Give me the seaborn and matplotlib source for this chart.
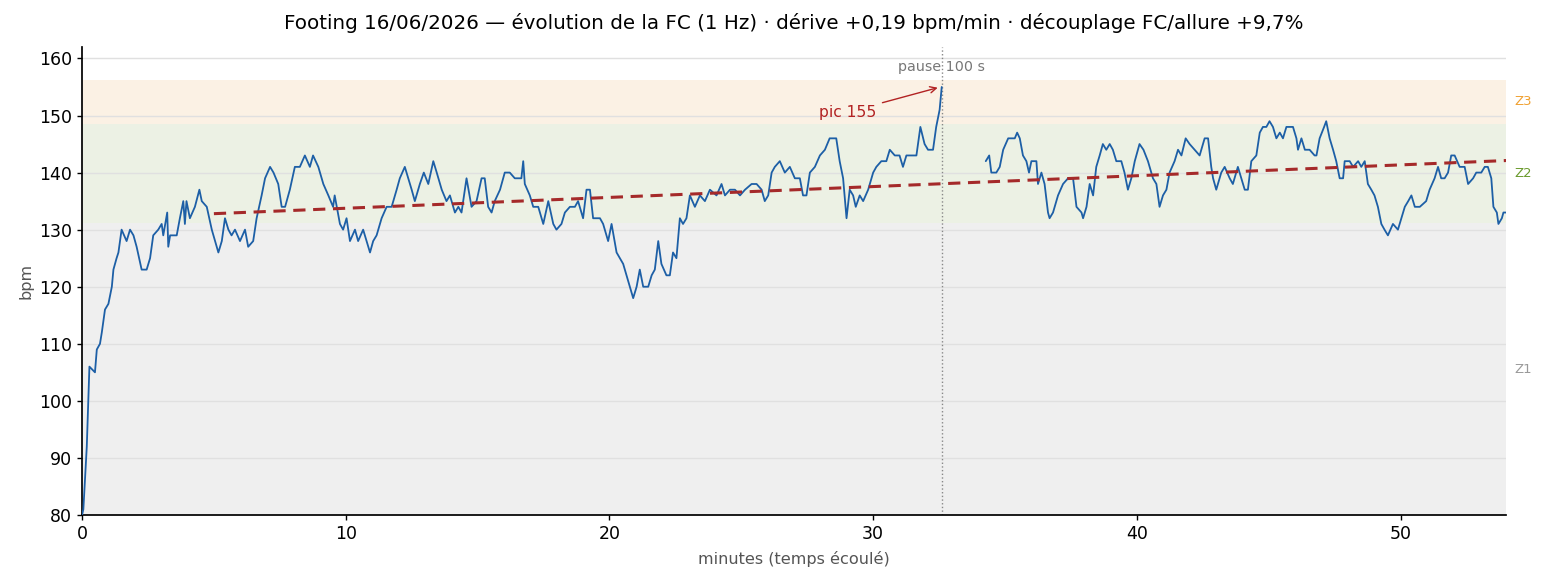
import numpy as np
import pandas as pd
import matplotlib
matplotlib.use("Agg")
import matplotlib.pyplot as plt
import matplotlib.transforms as mtransforms
import seaborn as sns

# FC relevée avant la pause (minutes, bpm)
seg1_min = [0.0, 0.05, 0.18, 0.28, 0.49, 0.56, 0.68, 0.75, 0.87, 1.0, 1.13, 1.19, 1.31, 1.38, 1.5,
            1.69, 1.82, 1.95, 2.07, 2.26, 2.45, 2.58, 2.7, 2.89, 3.02, 3.08, 3.23, 3.27, 3.34, 3.59,
            3.71, 3.84, 3.9, 3.96, 4.09, 4.28, 4.45, 4.54, 4.73, 4.92, 5.17, 5.3, 5.42, 5.55, 5.67,
            5.8, 5.99, 6.18, 6.3, 6.49, 6.62, 6.81, 6.94, 7.13, 7.26, 7.44, 7.57, 7.7, 7.88, 8.07,
            8.26, 8.45, 8.64, 8.76, 8.96, 9.15, 9.34, 9.52, 9.58, 9.78, 9.9, 10.03, 10.16, 10.35,
            10.47, 10.66, 10.79, 10.92, 11.04, 11.17, 11.36, 11.55, 11.74, 11.93, 12.05, 12.24,
            12.37, 12.5, 12.62, 12.81, 12.96, 13.13, 13.32, 13.45, 13.64, 13.82, 13.95, 14.14,
            14.27, 14.39, 14.58, 14.77, 14.96, 15.15, 15.27, 15.4, 15.53, 15.65, 15.85, 16.03,
            16.22, 16.41, 16.66, 16.73, 16.79, 16.98, 17.11, 17.3, 17.49, 17.68, 17.87, 17.99,
            18.18, 18.31, 18.5, 18.69, 18.81, 19.0, 19.13, 19.26, 19.38, 19.64, 19.76, 19.95,
            20.08, 20.27, 20.52, 20.71, 20.9, 21.03, 21.15, 21.28, 21.47, 21.6, 21.72, 21.85,
            21.97, 22.16, 22.29, 22.41, 22.54, 22.67, 22.79, 22.92, 23.05, 23.24, 23.43, 23.62,
            23.81, 24.06, 24.25, 24.38, 24.57, 24.76, 24.95, 25.14, 25.39, 25.58, 25.77, 25.89,
            26.02, 26.15, 26.27, 26.46, 26.65, 26.84, 27.03, 27.22, 27.34, 27.47, 27.6, 27.79,
            27.98, 28.17, 28.35, 28.6, 28.73, 28.86, 28.99, 29.11, 29.24, 29.34, 29.49, 29.62,
            29.81, 30.0, 30.12, 30.31, 30.5, 30.63, 30.82, 31.0, 31.13, 31.26, 31.45, 31.64,
            31.79, 31.95, 32.08, 32.27, 32.39, 32.52, 32.6]
seg1_bpm = [80, 81, 92, 106, 105, 109, 110, 112, 116, 117, 120, 123, 125, 126, 130,
            128, 130, 129, 127, 123, 123, 125, 129, 130, 131, 129, 133, 127, 129, 129,
            132, 135, 131, 135, 132, 134, 137, 135, 134, 130, 126, 128, 132, 130, 129,
            130, 128, 130, 127, 128, 132, 136, 139, 141, 140, 138, 134, 134, 137, 141,
            141, 143, 141, 143, 141, 138, 136, 134, 136, 131, 130, 132, 128, 130,
            128, 130, 128, 126, 128, 129, 132, 134, 134, 137, 139, 141,
            139, 137, 135, 138, 140, 138, 142, 140, 137, 135, 136, 133,
            134, 133, 139, 134, 135, 139, 139, 134, 133, 135, 137, 140,
            140, 139, 139, 142, 138, 136, 134, 134, 131, 135, 131, 130,
            131, 133, 134, 134, 135, 132, 137, 137, 132, 132, 131, 128,
            131, 126, 124, 121, 118, 120, 123, 120, 120, 122, 123, 128,
            124, 122, 122, 126, 125, 132, 131, 132, 136, 134, 136, 135,
            137, 136, 138, 136, 137, 137, 136, 137, 138, 138, 137, 135,
            136, 140, 141, 142, 140, 141, 139, 139, 136, 136, 140, 141,
            143, 144, 146, 146, 142, 139, 132, 137, 136, 134, 136, 135,
            137, 140, 141, 142, 142, 144, 143, 143, 141, 143, 143, 143,
            148, 145, 144, 144, 148, 151, 155]

# FC relevée après la pause de 100 s
seg2_min = [34.27, 34.4, 34.48, 34.67, 34.8, 34.93, 35.12, 35.37, 35.46, 35.56, 35.68, 35.81,
            35.91, 36.0, 36.19, 36.25, 36.38, 36.5, 36.63, 36.69, 36.82, 37.01, 37.2, 37.39,
            37.58, 37.71, 37.9, 37.96, 38.09, 38.21, 38.34, 38.46, 38.59, 38.71, 38.84, 38.97,
            39.09, 39.22, 39.41, 39.53, 39.66, 39.79, 39.92, 40.1, 40.25, 40.42, 40.61, 40.74,
            40.86, 40.99, 41.12, 41.24, 41.43, 41.56, 41.69, 41.85, 42.0, 42.19, 42.38, 42.57,
            42.7, 42.82, 42.89, 43.01, 43.2, 43.33, 43.52, 43.64, 43.83, 43.96, 44.09, 44.21,
            44.34, 44.53, 44.66, 44.78, 44.91, 45.03, 45.16, 45.29, 45.42, 45.54, 45.67, 45.92,
            46.05, 46.11, 46.24, 46.37, 46.55, 46.74, 46.81, 46.93, 47.1, 47.18, 47.31, 47.44,
            47.56, 47.69, 47.82, 47.88, 48.07, 48.2, 48.39, 48.51, 48.64, 48.76, 48.89, 49.01,
            49.14, 49.27, 49.39, 49.52, 49.71, 49.9, 50.03, 50.16, 50.29, 50.41, 50.54, 50.73,
            50.97, 51.1, 51.29, 51.42, 51.54, 51.67, 51.8, 51.92, 52.05, 52.24, 52.43, 52.56,
            52.75, 52.87, 53.06, 53.19, 53.31, 53.44, 53.52, 53.65, 53.71, 53.84, 53.9, 54.0]
seg2_bpm = [142, 143, 140, 140, 141, 144, 146, 146, 147, 146, 143, 142,
            140, 142, 142, 138, 140, 138, 133, 132, 133, 136, 138, 139,
            139, 134, 133, 132, 134, 138, 136, 141, 143, 145, 144, 145,
            144, 142, 142, 140, 137, 139, 142, 145, 144, 142, 139, 138,
            134, 136, 137, 140, 142, 144, 143, 146, 145, 144, 143, 146,
            146, 141, 139, 137, 140, 141, 139, 138, 141, 139, 137, 137,
            142, 143, 147, 148, 148, 149, 148, 146, 147, 146, 148, 148,
            146, 144, 146, 144, 144, 143, 143, 146, 148, 149, 146, 144,
            142, 139, 139, 142, 142, 141, 142, 141, 142, 138, 137, 136,
            134, 131, 130, 129, 131, 130, 132, 134, 135, 136, 134, 134,
            135, 137, 139, 141, 139, 139, 140, 143, 143, 141, 141, 138,
            139, 140, 140, 141, 141, 139, 134, 133, 131, 132, 133, 133]

# zones de FC (bpm)
zone_names = ["Z1", "Z2", "Z3"]
zone_low = [80.0, 131.1, 148.6]
zone_high = [131.1, 148.6, 156.3]
zone_fill = ["#efefef", "#ecf1e4", "#fbf1e4"]
zone_text = ["#999999", "#6a9a2c", "#f0a030"]

# dérive (régression à partir de 5 min)
drift_start = 5.0
drift_end = 54.0
drift_at_start = 132.8
drift_slope = 0.19

pause_at = 32.6
peak_min, peak_bpm = 32.55, 155

sns.set_theme(style="ticks")
plt.rcParams['font.family'] = ['DejaVu Sans']
plt.rcParams.update({"text.color": "black", "axes.edgecolor": "black",
                     "xtick.color": "black", "ytick.color": "black"})

fig = plt.figure(figsize=(15.45, 5.82), dpi=100)
ax = fig.add_axes([0.0531, 0.1151, 0.9217, 0.8041])

for lo, hi, fc in zip(zone_low, zone_high, zone_fill):
    ax.axhspan(lo, hi, color=fc, lw=0, zorder=0)

ax.yaxis.grid(True, color="#e0e0e0", lw=1, zorder=0.5)
ax.set_axisbelow(True)

df1 = pd.DataFrame({"t": seg1_min, "bpm": seg1_bpm})
df2 = pd.DataFrame({"t": seg2_min, "bpm": seg2_bpm})
sns.lineplot(data=df1, x="t", y="bpm", color="#1d5fa6", lw=1.3, estimator=None, sort=False, ax=ax, zorder=3)
sns.lineplot(data=df2, x="t", y="bpm", color="#1d5fa6", lw=1.3, estimator=None, sort=False, ax=ax, zorder=3)

trend_t = np.array([drift_start, drift_end])
trend_y = drift_at_start + drift_slope * (trend_t - drift_start)
sns.lineplot(x=trend_t, y=trend_y, color="#a52a2a", lw=2.2, ax=ax, zorder=4,
             linestyle=(0, (4, 2.5)))

ax.axvline(pause_at, color="#888888", lw=1, linestyle=":", zorder=2)
ax.text(pause_at, 158.5, "pause 100 s", color="#777777", fontsize=10.3, ha="center", va="center")

ax.annotate(f"pic {peak_bpm}", xy=(peak_min, peak_bpm), xytext=(27.95, 150.6),
            color="#b22222", fontsize=11.2, ha="left", va="center",
            arrowprops=dict(arrowstyle="->", color="#b22222", lw=1))

tr = mtransforms.blended_transform_factory(ax.transAxes, ax.transData)
for name, lo, hi, c in zip(zone_names, zone_low, zone_high, zone_text):
    ax.text(1.0056, (lo + hi) / 2, name, color=c, fontsize=9.5, ha="left", va="center", transform=tr)

ax.set_xlim(0, 54)
ax.set_ylim(80, 162)
ax.set_yticks(range(80, 161, 10))
ax.tick_params(labelsize=12.5, length=3.5, width=1)
ax.set_xlabel("minutes (temps écoulé)", fontsize=11.6, color="#555555", labelpad=6)
ax.set_ylabel("bpm", fontsize=11.6, color="#555555")
ax.set_title("Footing 16/06/2026 — évolution de la FC (1 Hz) · dérive +0,19 bpm/min · découplage FC/allure +9,7%",
             fontsize=14.3, pad=13)
sns.despine(ax=ax)

fig.savefig("out.png", dpi=100)
